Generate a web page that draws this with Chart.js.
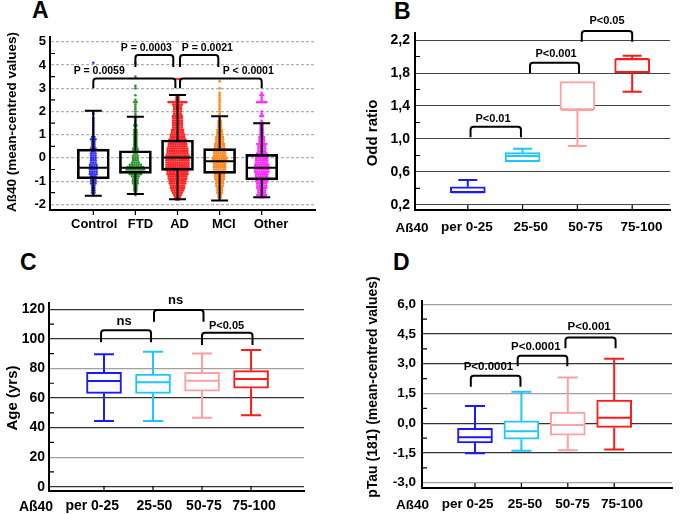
<!DOCTYPE html>
<html>
<head>
<meta charset="utf-8">
<title>Aß40 box plots</title>
<script src="https://cdn.jsdelivr.net/npm/chart.js@4.4.1/dist/chart.umd.min.js"></script>
<style>
  html, body { margin: 0; padding: 0; background: #fff; }
  body { position: relative; width: 685px; height: 514px; overflow: hidden; font-family: 'Liberation Sans', Arial, sans-serif; }
  canvas { position: absolute; }
  .letter { position: absolute; font-weight: bold; font-size: 23px; line-height: 23px; color: #000; }
</style>
</head>
<body>
<div class="letter" style="left:32px;top:-1px">A</div>
<div class="letter" style="left:394px;top:0px">B</div>
<div class="letter" style="left:20px;top:251px">C</div>
<div class="letter" style="left:393px;top:251px">D</div>
<canvas id="chartA" width="330" height="240" style="left:0;top:0"></canvas>
<canvas id="chartB" width="340" height="240" style="left:345px;top:0"></canvas>
<canvas id="chartC" width="330" height="264" style="left:0;top:250px"></canvas>
<canvas id="chartD" width="340" height="264" style="left:345px;top:250px"></canvas>
<script>
// ---------- Panel A: Aß40 by diagnosis ----------
const diagGroups = ['Control', 'FTD', 'AD', 'MCI', 'Other'];
const diagMin    = [-1.63, -1.56, -1.78, -1.84, -1.70];
const diagQ1     = [-0.90, -0.67, -0.54, -0.67, -0.95];
const diagMedian = [-0.42, -0.42, 0.02, -0.14, -0.42];
const diagQ3     = [0.38, 0.31, 0.77, 0.40, 0.15];
const diagMax    = [2.03, 1.77, 2.71, 1.80, 1.49];

// levels of the individual dots, and how many dots sit on each level per group
const dotLevels = [-1.9, -1.8, -1.7, -1.6, -1.5, -1.4, -1.3, -1.2, -1.1, -1.0,
                   -0.9, -0.8, -0.7, -0.6, -0.5, -0.4, -0.3, -0.2, -0.1, 0.0,
                   0.1, 0.2, 0.3, 0.4, 0.5, 0.6, 0.7, 0.8, 0.9, 1.0,
                   1.1, 1.2, 1.3, 1.4, 1.5, 1.6, 1.7, 1.8, 1.9, 2.0,
                   2.1, 2.2, 2.3, 2.4, 2.5, 2.6, 2.7, 2.8, 2.9, 3.0,
                   3.1, 3.2, 3.3, 3.4, 3.5, 3.6, 3.7, 3.8, 3.9, 4.0, 4.1];
const controlDots = [0,0,0,1,2,2,2,2,3,3, 3,3,4,4,4,4,4,3,3,3, 3,3,2,3,2,2,2,3,2,1, 1,1,1,1,1,1,1,0,1,1, 0,0,0,0,0,0,0,0,0,0, 0,0,0,0,0,0,0,0,0,0, 1];
const ftdDots     = [0,0,0,1,1,2,2,2,3,3, 3,4,6,8,9,8,6,4,3,3, 3,2,3,3,2,2,2,2,2,2, 2,2,1,2,1,1,1,1,1,1, 1,1,1,2,1,0,1,0,0,1, 1,0,0,0,1,0,0,0,0,0, 1];
const adDots      = [0,2,3,4,5,6,7,7,8,8, 9,9,10,10,11,11,11,11,11,11, 11,10,10,10,9,9,8,8,7,7, 6,6,5,5,5,5,5,5,4,4, 4,4,5,9,2,2,2,0,0,0, 0,0,0,3,0,0,0,0,0,0, 0];
const mciDots     = [0,1,2,2,3,3,3,4,4,4, 5,5,5,6,6,6,6,6,7,7, 6,6,6,5,5,5,4,4,4,3, 3,3,2,2,2,2,1,1,1,1, 1,1,1,1,1,1,1,1,0,1, 0,0,1,0,0,0,0,0,0,0, 0];
const otherDots   = [0,0,3,5,4,4,5,5,5,6, 6,6,6,7,7,7,7,6,6,6, 5,5,4,4,4,5,3,3,3,2, 2,2,2,2,2,1,0,2,1,1, 0,0,0,5,1,1,2,1,0,0, 0,0,0,0,0,0,0,0,0,0, 0];

// ---------- Panels B-D: Aß40 quartiles ----------
const quartiles = ['per 0-25', '25-50', '50-75', '75-100'];

const oddMin = [0.35, 0.725, 0.915, 1.573];
const oddQ1  = [0.35, 0.725, 1.352, 1.804];
const oddMed = [0.355, 0.794, 1.352, 1.97];
const oddQ3  = [0.42, 0.834, 1.695, 1.974];
const oddMax = [0.503, 0.883, 1.695, 2.01];

const ageMin = [44.4, 44.4, 46.7, 48.3];
const ageQ1  = [63.2, 63.2, 64.7, 66.6];
const ageMed = [71.5, 70.6, 71.7, 72.9];
const ageQ3  = [77.4, 76.2, 77.4, 78.5];
const ageMax = [89.6, 91.4, 90.2, 92.5];

const ptauMin = [-1.52, -1.39, -1.36, -1.32];
const ptauQ1  = [-0.99, -0.81, -0.60, -0.21];
const ptauMed = [-0.71, -0.41, -0.09, 0.28];
const ptauQ3  = [-0.26, 0.12, 0.56, 1.17];
const ptauMax = [0.87, 1.59, 2.31, 3.25];

// where each category label sits along the x axis
const diagLabelAt = [1.02, 2.12, 3.05, 4.1, 5.22];
const oddLabelAt  = [0.985, 2.15, 3.15, 4.17];
const ageLabelAt  = [0.76, 2.03, 3.04, 4.06];
const ptauLabelAt = [0.84, 2.08, 3.1, 4.17];

// significance brackets (data units)
const diagBrackets = [
  { from: 1, to: 2.95, low: 3.0, high: 3.42, text: 'P = 0.0059', tx: 1.14, ty: 3.75 },
  { from: 2, to: 2.9, low: 3.92, high: 4.43, text: 'P = 0.0003', tx: 2.26, ty: 4.73 },
  { from: 3.06, to: 3.97, low: 3.92, high: 4.43, text: 'P = 0.0021', tx: 3.71, ty: 4.73 },
  { from: 3.06, to: 5, low: 3.0, high: 3.42, text: 'P < 0.0001', tx: 4.68, ty: 3.75 }
];
const oddBrackets = [
  { from: 1.05, to: 1.97, low: 1.02, high: 1.149, text: 'P<0.01', tx: 1.46, ty: 1.242 },
  { from: 2.135, to: 3.03, low: 1.796, high: 1.925, text: 'P<0.001', tx: 2.61, ty: 2.03 },
  { from: 3.08, to: 4.0, low: 2.18, high: 2.31, text: 'P<0.05', tx: 3.54, ty: 2.434 }
];
const ageBrackets = [
  { from: 0.94, to: 1.96, low: 97.7, high: 105.8, text: 'ns', tx: 1.41, ty: 112, size: 13 },
  { from: 2.02, to: 3.03, low: 111.6, high: 119.5, text: 'ns', tx: 2.46, ty: 126, size: 13 },
  { from: 3.0, to: 4.03, low: 95.9, high: 104.2, text: 'P<0.05', tx: 3.5, ty: 109 }
];
const ptauBrackets = [
  { from: 0.91, to: 1.98, low: 1.84, high: 2.40, text: 'P<0.0001', tx: 1.29, ty: 2.85 },
  { from: 1.92, to: 2.99, low: 2.88, high: 3.41, text: 'P<0.0001', tx: 2.31, ty: 3.83 },
  { from: 2.95, to: 4.03, low: 3.78, high: 4.33, text: 'P<0.001', tx: 3.46, ty: 4.87 }
];

// colours
const diagColors = ['#3434ff', '#2f962f', '#ff2424', '#ff8a1e', '#ff2cff'];
const quartColors = ['#1a1aff', '#1cc6ff', '#ffa0a0', '#ff1a1a'];

const FONT = "'Liberation Sans', Arial, sans-serif";
Chart.defaults.font.family = FONT;
Chart.defaults.font.weight = 'bold';
Chart.defaults.color = '#000';

function onStep(v, base, step) {
  const r = (v - base) / step;
  return Math.abs(r - Math.round(r)) < 1e-6;
}

// spread the dots of one level side by side around the category
const dotGap = 0.052;
function swarm(counts, center) {
  const pts = [];
  counts.forEach((n, j) => {
    for (let k = 0; k < n; k++) {
      pts.push({ x: center + (k - (n - 1) / 2) * dotGap, y: dotLevels[j] });
    }
  });
  return pts;
}

// whiskers, medians, minor ticks, brackets and titles
function boxDeco(spec) {
  return {
    id: 'boxDeco',
    afterDatasetsDraw(chart) {
      const ctx = chart.ctx, xs = chart.scales.x, ys = chart.scales.y;
      ctx.save();
      ctx.lineWidth = 2;
      spec.min.forEach((_, i) => {
        const x = xs.getPixelForValue(i + 1);
        const yMin = ys.getPixelForValue(spec.min[i]);
        const yQ1 = ys.getPixelForValue(spec.q1[i]);
        const yMed = ys.getPixelForValue(spec.med[i]);
        const yQ3 = ys.getPixelForValue(spec.q3[i]);
        const yMax = ys.getPixelForValue(spec.max[i]);
        ctx.strokeStyle = spec.colors[i];
        ctx.beginPath();
        if (spec.max[i] > spec.q3[i]) {
          ctx.moveTo(x, yQ3); ctx.lineTo(x, yMax);
          ctx.moveTo(x - spec.cap, yMax); ctx.lineTo(x + spec.cap, yMax);
        }
        if (spec.min[i] < spec.q1[i]) {
          ctx.moveTo(x, yQ1); ctx.lineTo(x, yMin);
          ctx.moveTo(x - spec.cap, yMin); ctx.lineTo(x + spec.cap, yMin);
        }
        ctx.moveTo(x - spec.half, yMed); ctx.lineTo(x + spec.half, yMed);
        ctx.stroke();
      });
      ctx.restore();
    },
    afterDraw(chart) {
      const ctx = chart.ctx, xs = chart.scales.x, ys = chart.scales.y, area = chart.chartArea;
      ctx.save();
      ctx.strokeStyle = '#000';
      ctx.lineWidth = 1.2;
      ctx.beginPath();
      ys.ticks.forEach(t => {
        if (!onStep(t.value, spec.majorBase, spec.majorStep)) {
          const y = ys.getPixelForValue(t.value);
          ctx.moveTo(area.left, y); ctx.lineTo(area.left + 5, y);
        }
      });
      spec.min.forEach((_, i) => {
        const x = xs.getPixelForValue(i + 1);
        ctx.moveTo(x, area.bottom); ctx.lineTo(x, area.bottom + spec.xTick);
      });
      ctx.stroke();

      ctx.lineWidth = 2;
      ctx.lineJoin = 'round';
      ctx.fillStyle = '#000';
      ctx.textAlign = 'center';
      ctx.textBaseline = 'middle';
      spec.brackets.forEach(b => {
        const x1 = xs.getPixelForValue(b.from), x2 = xs.getPixelForValue(b.to);
        const yl = ys.getPixelForValue(b.low), yh = ys.getPixelForValue(b.high);
        ctx.beginPath();
        ctx.moveTo(x1, yl);
        ctx.arcTo(x1, yh, x2, yh, 3);
        ctx.arcTo(x2, yh, x2, yl, 3);
        ctx.lineTo(x2, yl);
        ctx.stroke();
        ctx.font = 'bold ' + (b.size || spec.pFont) + 'px ' + FONT;
        ctx.fillText(b.text, xs.getPixelForValue(b.tx), ys.getPixelForValue(b.ty));
      });

      const t = spec.yTitle;
      ctx.save();
      ctx.translate(t.x, t.y);
      ctx.rotate(-Math.PI / 2);
      ctx.font = 'bold ' + t.size + 'px ' + FONT;
      ctx.fillText(t.text, 0, 0);
      ctx.restore();

      if (spec.extra) {
        ctx.font = 'bold ' + spec.extra.size + 'px ' + FONT;
        ctx.fillText(spec.extra.text, spec.extra.x, spec.extra.y);
      }
      ctx.restore();
    }
  };
}

function xAxis(min, max, labels, labelAt, size, pad, height) {
  return {
    type: 'linear', min: min, max: max, offset: false,
    grid: { display: false, drawTicks: false, tickLength: 0, offset: false },
    border: { color: '#000', width: 2 },
    afterBuildTicks: s => { s.ticks = labelAt.map(v => ({ value: v })); },
    afterFit: s => { s.height = height; },
    ticks: {
      callback: (v, i) => labels[i] || '',
      font: { size: size, weight: 'bold' }, color: '#000',
      padding: pad, maxRotation: 0, autoSkip: false
    }
  };
}

function yAxis(o) {
  return {
    type: 'linear', min: o.min, max: o.max, beginAtZero: false,
    grid: {
      drawTicks: false,
      lineWidth: o.lineWidth || 1.2,
      color: c => onStep(c.tick.value, o.base, o.major) ? o.gridColor(c.tick.value) : 'rgba(0,0,0,0)'
    },
    border: { color: '#000', width: 2, dash: o.dash || [] },
    afterFit: s => { s.width = o.width; },
    ticks: {
      stepSize: o.step, maxTicksLimit: 100, autoSkip: false, includeBounds: false,
      callback: v => onStep(v, o.base, o.major) ? o.fmt(v) : '',
      font: { size: o.size, weight: 'bold' }, color: '#000', padding: o.pad
    }
  };
}

const commaFmt = v => v.toFixed(1).replace('.', ',');

function boxDataset(q1, q3, border, fill, thickness) {
  return {
    type: 'bar',
    data: q1.map((v, i) => ({ x: i + 1, y: [v, q3[i]] })),
    backgroundColor: fill,
    borderColor: border,
    borderWidth: 2,
    borderSkipped: false,
    barThickness: thickness,
    order: 0
  };
}

const baseOptions = (padding, scales) => ({
  responsive: false,
  animation: false,
  layout: { padding: padding },
  plugins: { legend: { display: false }, tooltip: { enabled: false } },
  scales: scales
});

// ---- A ----
new Chart(document.getElementById('chartA'), {
  type: 'bar',
  data: {
    datasets: [boxDataset(diagQ1, diagQ3, '#000', 'rgba(0,0,0,0)', 32)].concat(
      [controlDots, ftdDots, adDots, mciDots, otherDots].map((counts, i) => ({
        type: 'scatter',
        data: swarm(counts, i + 1),
        backgroundColor: diagColors[i],
        borderWidth: 0,
        pointRadius: 1.35,
        order: 1
      })))
  },
  options: baseOptions({ top: 37, right: 15, left: 0, bottom: 0 }, {
    x: xAxis(-0.0285, 6.266, diagGroups, diagLabelAt, 13, 7, 30),
    y: yAxis({ min: -2.245, max: 5.21, step: 0.5, base: 0, major: 1, width: 50, size: 13, pad: 4,
               fmt: v => String(Math.round(v)), gridColor: () => '#b0b0b0', dash: [3, 2] })
  }),
  plugins: [boxDeco({
    colors: diagGroups.map(() => '#000'), min: diagMin, q1: diagQ1, med: diagMedian, q3: diagQ3, max: diagMax,
    cap: 8.5, half: 15, majorBase: 0, majorStep: 1, xTick: 5,
    brackets: diagBrackets, pFont: 10.5,
    yTitle: { text: 'Aß40 (mean-centred values)', x: 12, y: 122, size: 13.5 }
  })]
});

// ---- B ----
new Chart(document.getElementById('chartB'), {
  type: 'bar',
  data: { datasets: [boxDataset(oddQ1, oddQ3, quartColors, '#fff', 35)] },
  options: baseOptions({ top: 33, right: 15, left: 0, bottom: 0 }, {
    x: xAxis(0.0365, 4.69, quartiles, oddLabelAt, 13.5, 9, 30),
    y: yAxis({ min: 0.139, max: 2.285, step: 0.2, base: 0.2, major: 0.4, width: 70, size: 14, pad: 5,
               fmt: commaFmt, gridColor: () => '#454545', lineWidth: 1 })
  }),
  plugins: [boxDeco({
    colors: quartColors, min: oddMin, q1: oddQ1, med: oddMed, q3: oddQ3, max: oddMax,
    cap: 9.5, half: 16, majorBase: 0.2, majorStep: 0.4, xTick: -5,
    brackets: oddBrackets, pFont: 11,
    yTitle: { text: 'Odd ratio', x: 28, y: 133, size: 15 },
    extra: { text: 'Aß40', x: 67, y: 228, size: 13.5 }
  })]
});

// ---- C ----
new Chart(document.getElementById('chartC'), {
  type: 'bar',
  data: { datasets: [boxDataset(ageQ1, ageQ3, quartColors, '#fff', 35)] },
  options: baseOptions({ top: 53, right: 26, left: 0, bottom: 0 }, {
    x: xAxis(-0.122, 5.08, quartiles, ageLabelAt, 14, 7, 23),
    y: yAxis({ min: -2.9, max: 124.3, step: 10, base: 0, major: 20, width: 49, size: 14, pad: 4,
               fmt: v => String(Math.round(v)),
               gridColor: v => (Math.round(v) === 20 || Math.round(v) === 80) ? '#a0a0a0' : '#333' })
  }),
  plugins: [boxDeco({
    colors: quartColors, min: ageMin, q1: ageQ1, med: ageMed, q3: ageQ3, max: ageMax,
    cap: 10, half: 16, majorBase: 0, majorStep: 20, xTick: -5,
    brackets: ageBrackets, pFont: 11,
    yTitle: { text: 'Age (yrs)', x: 13, y: 148, size: 15 },
    extra: { text: 'Aß40', x: 36, y: 257, size: 14 }
  })]
});

// ---- D ----
new Chart(document.getElementById('chartD'), {
  type: 'bar',
  data: { datasets: [boxDataset(ptauQ1, ptauQ3, quartColors, '#fff', 35)] },
  options: baseOptions({ top: 51, right: 13, left: 0, bottom: 0 }, {
    x: xAxis(-0.142, 5.246, quartiles, ptauLabelAt, 13.5, 8, 26),
    y: yAxis({ min: -3.268, max: 6.167, step: 0.75, base: 0, major: 1.5, width: 77, size: 13.5, pad: 6,
               fmt: commaFmt,
               gridColor: v => (onStep(v, 6, 100) || onStep(v, 1.5, 100) || onStep(v, -3, 100)) ? '#a0a0a0' : '#333' })
  }),
  plugins: [boxDeco({
    colors: quartColors, min: ptauMin, q1: ptauQ1, med: ptauMed, q3: ptauQ3, max: ptauMax,
    cap: 10, half: 16, majorBase: 0, majorStep: 1.5, xTick: -5,
    brackets: ptauBrackets, pFont: 11.5,
    yTitle: { text: 'pTau (181) (mean-centred values)', x: 28, y: 137, size: 14 },
    extra: { text: 'Aß40', x: 67.5, y: 255, size: 13.5 }
  })]
});
</script>
</body>
</html>
